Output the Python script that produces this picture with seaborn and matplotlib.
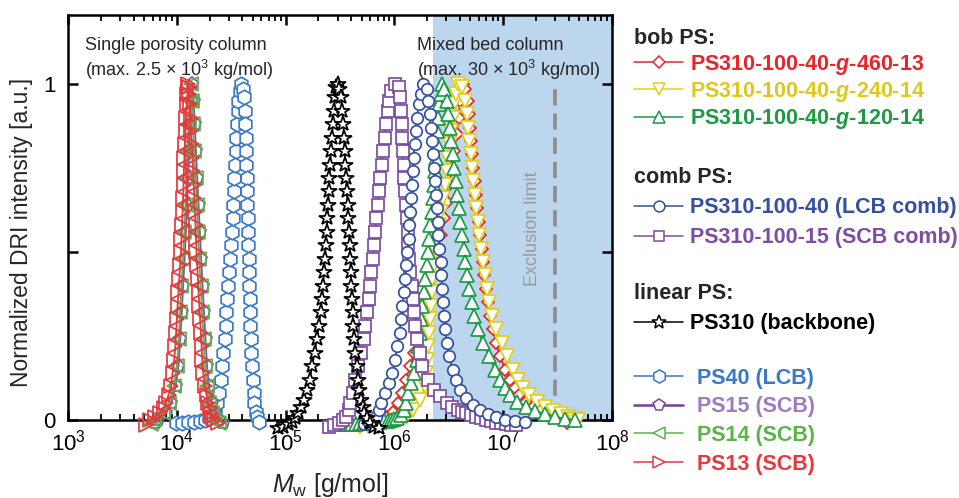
import numpy as np
import pandas as pd
import matplotlib
matplotlib.use("Agg")
import matplotlib.pyplot as plt
import seaborn as sns
from matplotlib.lines import Line2D
from matplotlib.ticker import LogLocator, NullFormatter, FixedLocator, FixedFormatter

# ---------------- data: log10(Mw [g/mol]) and normalized DRI intensity ----------------
LOGM_BOB460 = [5.794, 5.868, 5.932, 5.987, 6.033, 6.070, 6.107, 6.143, 6.180, 6.217, 6.254, 6.290, 6.327,
               6.364, 6.396, 6.428, 6.456, 6.483, 6.506, 6.529, 6.552, 6.571, 6.589, 6.607, 6.630,
               6.653, 6.672, 6.683, 6.694, 6.704, 6.715, 6.726, 6.738, 6.750, 6.763, 6.776, 6.789, 6.802,
               6.814, 6.827, 6.842, 6.858, 6.874, 6.902, 6.934, 6.971, 7.017, 7.062, 7.104, 7.145, 7.210,
               7.274, 7.338, 7.403, 7.458, 7.522, 7.586]
INT_BOB460 = [-0.01, 0.0, 0.01, 0.025, 0.05, 0.08, 0.12, 0.16, 0.2, 0.25, 0.3, 0.35, 0.4, 0.45, 0.5, 0.55,
              0.6, 0.65, 0.7, 0.75, 0.8, 0.85, 0.9, 0.95, 1.0,
              0.985, 0.95, 0.91, 0.87, 0.83, 0.79, 0.75, 0.71, 0.67, 0.63, 0.59, 0.55, 0.51, 0.47, 0.43,
              0.39, 0.35, 0.31, 0.27, 0.23, 0.19, 0.15, 0.12, 0.095, 0.075, 0.055, 0.04, 0.028, 0.018,
              0.01, 0.003, -0.01]

LOGM_BOB240 = [5.684, 5.757, 5.831, 5.904, 5.978, 6.042, 6.107, 6.171, 6.235, 6.277, 6.293, 6.304, 6.312,
               6.320, 6.327, 6.335, 6.341, 6.348, 6.362, 6.378, 6.393, 6.410, 6.426, 6.443, 6.461, 6.481,
               6.495, 6.509, 6.522, 6.535, 6.548, 6.562, 6.585,
               6.621, 6.653, 6.667, 6.679, 6.690, 6.700, 6.711, 6.724, 6.737, 6.750, 6.765, 6.779, 6.794,
               6.810, 6.829, 6.849, 6.869, 6.897, 6.938, 6.989, 7.035, 7.090, 7.136, 7.182, 7.237, 7.311,
               7.384, 7.458, 7.531, 7.596, 7.651, 7.687]
INT_BOB240 = [-0.02, -0.018, -0.015, -0.01, -0.005, 0.0, 0.01, 0.03, 0.06, 0.1, 0.14, 0.18, 0.22, 0.26,
              0.3, 0.34, 0.38, 0.42, 0.46, 0.5, 0.54, 0.58, 0.62, 0.66, 0.7, 0.74, 0.78, 0.82, 0.86, 0.9,
              0.94, 0.97, 1.0,
              0.99, 0.95, 0.91, 0.87, 0.83, 0.79, 0.75, 0.71, 0.67, 0.63, 0.59, 0.55, 0.51, 0.47, 0.43,
              0.39, 0.35, 0.31, 0.27, 0.23, 0.19, 0.15, 0.12, 0.095, 0.075, 0.055, 0.04, 0.028, 0.018,
              0.01, 0.004, 0.0]

LOGM_BOB120 = [5.537, 5.573, 5.610, 5.647, 5.684, 5.720, 5.757, 5.794, 5.831, 5.868, 5.904, 5.937, 5.969,
               5.997, 6.024, 6.061, 6.084, 6.102, 6.125, 6.153, 6.180, 6.203, 6.220, 6.233, 6.246, 6.258,
               6.270, 6.283, 6.295, 6.307, 6.318, 6.330, 6.341, 6.353, 6.364, 6.376, 6.382, 6.388, 6.394,
               6.403, 6.414, 6.425, 6.437,
               6.460, 6.479, 6.495, 6.509, 6.523, 6.534, 6.548, 6.562, 6.577, 6.592, 6.606, 6.619, 6.635,
               6.652, 6.669, 6.688, 6.709, 6.733, 6.764, 6.814, 6.869, 6.925, 6.971, 7.012, 7.058, 7.127,
               7.210, 7.292, 7.384, 7.476, 7.568, 7.660]
INT_BOB120 = [-0.012, -0.012, -0.012, -0.011, -0.01, -0.009, -0.008, -0.007, -0.006, -0.005, -0.004,
              -0.002, 0.0, 0.002, 0.005, 0.015, 0.03, 0.05, 0.08, 0.11, 0.14, 0.18, 0.22, 0.26, 0.3, 0.34,
              0.38, 0.42, 0.46, 0.5, 0.54, 0.58, 0.62, 0.66, 0.7, 0.74, 0.78, 0.82, 0.86, 0.9, 0.94, 0.97,
              1.0,
              0.985, 0.95, 0.91, 0.87, 0.83, 0.79, 0.75, 0.71, 0.67, 0.63, 0.59, 0.55, 0.51, 0.47, 0.43,
              0.39, 0.35, 0.31, 0.27, 0.23, 0.19, 0.15, 0.12, 0.095, 0.075, 0.055, 0.04, 0.028, 0.018,
              0.01, 0.004, 0.0]

LOGM_COMB40 = [5.721, 5.766, 5.803, 5.831, 5.854, 5.877, 5.914, 5.950, 5.982, 6.005, 6.028, 6.047, 6.061,
               6.074, 6.088, 6.100, 6.111, 6.120, 6.130, 6.137, 6.145, 6.153, 6.160, 6.167, 6.176, 6.185,
               6.196, 6.208, 6.224, 6.240, 6.267,
               6.295, 6.312, 6.323, 6.332, 6.341, 6.351, 6.360, 6.369, 6.378, 6.387, 6.396, 6.405, 6.414,
               6.425, 6.432, 6.438, 6.445, 6.454, 6.465, 6.483, 6.506, 6.534, 6.566, 6.607, 6.658, 6.722,
               6.787, 6.860, 6.934, 7.017, 7.108, 7.200]
INT_COMB40 = [-0.012, -0.008, 0.0, 0.01, 0.03, 0.05, 0.08, 0.11, 0.14, 0.18, 0.22, 0.26, 0.3, 0.34, 0.38,
              0.42, 0.46, 0.5, 0.54, 0.58, 0.62, 0.66, 0.7, 0.74, 0.78, 0.82, 0.86, 0.9, 0.94, 0.97, 1.0,
              0.985, 0.95, 0.91, 0.87, 0.83, 0.79, 0.75, 0.71, 0.67, 0.63, 0.59, 0.55, 0.51, 0.47, 0.43,
              0.39, 0.35, 0.31, 0.27, 0.23, 0.19, 0.15, 0.12, 0.09, 0.065, 0.045, 0.03, 0.018, 0.008, 0.0,
              -0.004, -0.006]

LOGM_COMB15 = [5.399, 5.445, 5.491, 5.528, 5.555, 5.578, 5.596, 5.615, 5.638, 5.665, 5.693, 5.716, 5.734,
               5.751, 5.765, 5.778, 5.789, 5.801, 5.812, 5.823, 5.834, 5.845, 5.857, 5.869, 5.882, 5.895,
               5.910, 5.925, 5.939, 5.953, 5.973, 6.005,
               6.038, 6.051, 6.061, 6.068, 6.073, 6.079, 6.084, 6.091, 6.099, 6.108, 6.116, 6.121, 6.128,
               6.134, 6.145, 6.157, 6.169, 6.180, 6.192, 6.208, 6.231, 6.254, 6.309, 6.364, 6.419, 6.483,
               6.530, 6.585, 6.620, 6.658, 6.700, 6.750, 6.800, 6.842, 6.890, 6.934, 6.980, 7.026, 7.070,
               7.118]
INT_COMB15 = [-0.02, -0.015, -0.008, 0.0, 0.01, 0.03, 0.05, 0.08, 0.12, 0.16, 0.2, 0.24, 0.28, 0.32, 0.36,
              0.4, 0.44, 0.48, 0.52, 0.56, 0.6, 0.64, 0.68, 0.72, 0.76, 0.8, 0.84, 0.88, 0.92, 0.95, 0.98,
              1.0,
              0.99, 0.96, 0.92, 0.88, 0.84, 0.8, 0.76, 0.72, 0.68, 0.64, 0.6, 0.56, 0.52, 0.48, 0.44, 0.4,
              0.36, 0.32, 0.28, 0.24, 0.2, 0.16, 0.12, 0.09, 0.07, 0.05, 0.04, 0.03, 0.025, 0.02, 0.015,
              0.01, 0.005, 0.0, -0.004, -0.008, -0.01, -0.012, -0.014, -0.015]

LOGM_PS310 = [4.930, 4.976, 5.022, 5.059, 5.086, 5.114, 5.142, 5.165, 5.192, 5.220, 5.243, 5.266, 5.287,
              5.305, 5.321, 5.335, 5.344, 5.353, 5.362, 5.369, 5.377, 5.384, 5.391, 5.397, 5.403, 5.410,
              5.417, 5.426, 5.434, 5.443, 5.454, 5.466, 5.477,
              5.495, 5.509, 5.521, 5.530, 5.537, 5.543, 5.550, 5.556, 5.562, 5.569, 5.575, 5.582, 5.588,
              5.594, 5.599, 5.604, 5.609, 5.615, 5.621, 5.631, 5.642, 5.654, 5.667, 5.679, 5.693, 5.707,
              5.725, 5.748, 5.776, 5.812, 5.858]
INT_PS310 = [-0.025, -0.02, -0.012, -0.005, 0.005, 0.02, 0.04, 0.06, 0.09, 0.12, 0.16, 0.2, 0.24, 0.28,
             0.32, 0.36, 0.4, 0.44, 0.48, 0.52, 0.56, 0.6, 0.64, 0.68, 0.72, 0.76, 0.8, 0.84, 0.88, 0.92,
             0.96, 0.99, 1.0,
             0.985, 0.96, 0.92, 0.88, 0.84, 0.8, 0.76, 0.72, 0.68, 0.64, 0.6, 0.56, 0.52, 0.48, 0.44, 0.4,
             0.36, 0.32, 0.28, 0.24, 0.2, 0.16, 0.12, 0.09, 0.06, 0.04, 0.02, 0.005, -0.01, -0.02, -0.025]

LOGM_PS40 = [3.993, 4.048, 4.103, 4.158, 4.213, 4.259, 4.296, 4.328, 4.351, 4.369, 4.388, 4.406, 4.418,
             4.429, 4.440, 4.449, 4.456, 4.462, 4.472, 4.483, 4.493, 4.501, 4.508, 4.515, 4.520, 4.525,
             4.530, 4.536, 4.542, 4.548, 4.553, 4.559, 4.565, 4.577, 4.590,
             4.604, 4.614, 4.623, 4.628, 4.632, 4.636, 4.640, 4.643, 4.646, 4.649, 4.652, 4.654, 4.657,
             4.661, 4.664, 4.667, 4.671, 4.674, 4.677, 4.681, 4.685, 4.689, 4.696, 4.705, 4.714, 4.726,
             4.737, 4.755]
INT_PS40 = [-0.01, -0.008, -0.006, -0.005, -0.004, 0.0, 0.005, 0.015, 0.03, 0.05, 0.08, 0.12, 0.16, 0.2,
            0.24, 0.28, 0.32, 0.36, 0.4, 0.44, 0.48, 0.52, 0.56, 0.6, 0.64, 0.68, 0.72, 0.76, 0.8, 0.84,
            0.88, 0.92, 0.95, 0.98, 1.0,
            0.985, 0.96, 0.92, 0.88, 0.84, 0.8, 0.76, 0.72, 0.68, 0.64, 0.6, 0.56, 0.52, 0.48, 0.44, 0.4,
            0.36, 0.32, 0.28, 0.24, 0.2, 0.16, 0.12, 0.08, 0.05, 0.025, 0.01, -0.005]

LOGM_PS15 = [3.80, 3.83, 3.90, 3.95, 3.99, 4.015, 4.032, 4.046, 4.058, 4.072, 4.084, 4.095, 4.104, 4.113,
             4.123, 4.133, 4.143,
             4.155, 4.165, 4.176, 4.188, 4.200, 4.212, 4.224, 4.237, 4.250, 4.264, 4.278, 4.296, 4.320,
             4.350, 4.385, 4.420]
INT_PS15 = [-0.01, 0.0, 0.02, 0.05, 0.1, 0.16, 0.24, 0.32, 0.4, 0.48, 0.56, 0.64, 0.72, 0.8, 0.88, 0.95,
            1.0,
            0.95, 0.88, 0.8, 0.72, 0.64, 0.56, 0.48, 0.4, 0.32, 0.24, 0.16, 0.1, 0.05, 0.02, 0.0, -0.01]

LOGM_PS14 = [3.76, 3.79, 3.87, 3.925, 3.972, 4.000, 4.018, 4.030, 4.042, 4.058, 4.070, 4.080, 4.089, 4.098,
             4.108, 4.118, 4.128,
             4.140, 4.149, 4.160, 4.172, 4.183, 4.195, 4.206, 4.219, 4.232, 4.246, 4.258, 4.276, 4.300,
             4.325, 4.350, 4.385]
INT_PS14 = [-0.012, 0.0, 0.02, 0.05, 0.1, 0.16, 0.24, 0.32, 0.4, 0.48, 0.56, 0.64, 0.72, 0.8, 0.88, 0.95,
            1.0,
            0.95, 0.88, 0.8, 0.72, 0.64, 0.56, 0.48, 0.4, 0.32, 0.24, 0.16, 0.1, 0.05, 0.02, 0.0, -0.01]

LOGM_PS13 = [3.717, 3.754, 3.800, 3.846, 3.878, 3.901, 3.924, 3.947, 3.961, 3.976, 3.987, 3.994, 4.001,
             4.007, 4.015, 4.023, 4.030, 4.039, 4.043, 4.048, 4.053, 4.058, 4.062, 4.065, 4.070, 4.074,
             4.080, 4.085, 4.092, 4.097, 4.101, 4.103,
             4.108, 4.114, 4.119, 4.126, 4.132, 4.138, 4.144, 4.151, 4.156, 4.162, 4.166, 4.172, 4.176,
             4.181, 4.187, 4.194, 4.200, 4.208, 4.214, 4.221, 4.228, 4.234, 4.243, 4.259, 4.273, 4.287,
             4.301, 4.314, 4.328, 4.342, 4.379]
INT_PS13 = [-0.015, 0.0, 0.01, 0.02, 0.035, 0.05, 0.075, 0.1, 0.14, 0.18, 0.22, 0.26, 0.3, 0.34, 0.38,
            0.42, 0.46, 0.5, 0.54, 0.58, 0.62, 0.66, 0.7, 0.74, 0.78, 0.82, 0.86, 0.9, 0.94, 0.97, 0.99,
            1.0,
            0.99, 0.97, 0.94, 0.9, 0.86, 0.82, 0.78, 0.74, 0.7, 0.66, 0.62, 0.58, 0.54, 0.5, 0.46, 0.42,
            0.38, 0.34, 0.3, 0.26, 0.22, 0.18, 0.14, 0.1, 0.075, 0.05, 0.035, 0.02, 0.01, 0.0, -0.01]

MIXED_BED_START = 2.27e6      # g/mol, start of shaded mixed-bed region
EXCLUSION_LIMIT = 3.0e7       # g/mol
X_TICKS = [1e3, 1e4, 1e5, 1e6, 1e7, 1e8]
Y_TICKS = [0, 0.5, 1]
Y_TICKLABELS = ["0", "", "1"]

# ---------------- style ----------------
sns.set_theme(style="ticks")
plt.rcParams.update({
    "font.family": ["Liberation Sans", "DejaVu Sans"],
    "mathtext.fontset": "custom",
    "mathtext.rm": "Liberation Sans",
    "mathtext.it": "Liberation Sans:italic",
    "mathtext.bf": "Liberation Sans:bold",
    "mathtext.sf": "Liberation Sans:bold:italic",
    "axes.linewidth": 1.8,
    "axes.edgecolor": "black",
})

fig = plt.figure(figsize=(9.59, 4.98), dpi=100)
ax = fig.add_axes([0.0709, 0.1566, 0.5673, 0.8133])
ax.set_xscale("log")

# series: (logM, intensity, line colour, marker, size, face, zorder)
series = [
    (LOGM_BOB460, INT_BOB460, "#E8252B", "D", 6.6, "white", 3.0),
    (LOGM_BOB240, INT_BOB240, "#E3CF1A", "v", 10.0, "white", 3.1),
    (LOGM_BOB120, INT_BOB120, "#1E9A47", "^", 10.0, "white", 3.2),
    (LOGM_COMB15, INT_COMB15, "#7D4EA1", "s", 8.0, "white", 3.3),
    (LOGM_COMB40, INT_COMB40, "#34509F", "o", 8.3, "white", 3.4),
    (LOGM_PS310, INT_PS310, "#000000", "*", 11.5, "white", 3.5),
    (LOGM_PS40, INT_PS40, "#3B78C6", "h", 10.5, "white", 3.6),
    (LOGM_PS15, INT_PS15, "#8155A8", "p", 9.5, "none", 3.7),
    (LOGM_PS14, INT_PS14, "#5BB447", "<", 10.0, "none", 3.8),
    (LOGM_PS13, INT_PS13, "#E8383E", ">", 10.0, "none", 3.9),
]

ax.axvspan(MIXED_BED_START, X_TICKS[-1], color="#BCD6EE", lw=0, zorder=0)

for logm, inten, col, mk, ms, face, z in series:
    df = pd.DataFrame({"M": 10 ** np.asarray(logm), "I": inten})
    sns.lineplot(data=df, x="M", y="I", ax=ax, estimator=None, sort=False,
                 color=col, lw=1.3, marker=mk, markersize=ms,
                 markerfacecolor=face, markeredgecolor=col, markeredgewidth=1.25,
                 clip_on=False, zorder=z, legend=False)

ax.vlines(EXCLUSION_LIMIT, 0, 1, colors="#8C8C8C", lw=2.6, linestyles=(0, (4.5, 2.2)), zorder=2.8)
ax.text(10 ** 7.265, 0.57, "Exclusion limit", rotation=90, ha="center", va="center",
        fontsize=13, color="#9A9A9A", zorder=2.9)

ax.text(0.031, 0.89, "Single porosity column\n(max. 2.5 \u00d7 10$^3$ kg/mol)", transform=ax.transAxes,
        ha="left", va="center", fontsize=13, linespacing=1.25, zorder=5)
ax.text(0.6415, 0.89, "Mixed bed column\n(max. 30 \u00d7 10$^3$ kg/mol)", transform=ax.transAxes,
        ha="left", va="center", fontsize=13, linespacing=1.25, zorder=5)

ax.set_xlim(X_TICKS[0], X_TICKS[-1])
ax.set_ylim(0, 1.205)
ax.xaxis.set_major_locator(LogLocator(base=10, numticks=10))
ax.xaxis.set_minor_locator(LogLocator(base=10, subs=np.arange(2, 10), numticks=20))
ax.xaxis.set_minor_formatter(NullFormatter())
ax.yaxis.set_major_locator(FixedLocator(Y_TICKS))
ax.yaxis.set_major_formatter(FixedFormatter(Y_TICKLABELS))
ax.tick_params(which="both", direction="in", top=True, right=True, colors="black")
ax.tick_params(which="major", length=7, width=1.8)
ax.tick_params(which="minor", length=4, width=1.3)
ax.tick_params(axis="x", which="major", labelsize=16, pad=7)
ax.tick_params(axis="y", which="major", labelsize=16, pad=9)
for sp in ax.spines.values():
    sp.set_linewidth(1.8)
    sp.set_color("black")
    sp.set_zorder(2.5)

ax.set_xlabel("$M_\\mathrm{w}$ [g/mol]", fontsize=18)
ax.set_ylabel("Normalized DRI intensity [a.u.]", fontsize=16.5)
ax.xaxis.set_label_coords(0.482, -0.125)
ax.yaxis.set_label_coords(-0.064, 0.462)

# ---------------- legends ----------------
def handle(col, mk, ms, lw=1.1):
    return Line2D([0], [0], color=col, lw=lw, marker=mk, markersize=ms,
                  markerfacecolor="white", markeredgecolor=col, markeredgewidth=1.1)

groups = [
    ("bob PS:", 0.943, 0.3, 0.15, [
        (handle("#E8252B", "D", 6.0), "PS310-100-40-$\\mathsf{g}$-460-13", "#E8252B"),
        (handle("#E3CF1A", "v", 9.0), "PS310-100-40-$\\mathsf{g}$-240-14", "#DCC81E"),
        (handle("#1E9A47", "^", 9.0), "PS310-100-40-$\\mathsf{g}$-120-14", "#1E9A47"),
    ]),
    ("comb PS:", 0.664, 0.3, 0.42, [
        (handle("#34509F", "o", 7.8), "PS310-100-40 (LCB comb)", "#34509F"),
        (handle("#7D4EA1", "s", 7.5), "PS310-100-15 (SCB comb)", "#7D4EA1"),
    ]),
    ("linear PS:", 0.431, 0.3, 0.42, [
        (handle("#000000", "*", 10.5), "PS310 (backbone)", "#000000"),
    ]),
    (None, 0.262, 0.62, 0.36, [
        (handle("#3B78C6", "h", 9.5), "PS40 (LCB)", "#3B78C6"),
        (handle("#7B48A0", "p", 8.5, lw=1.9), "PS15 (SCB)", "#9D7CC0"),
        (handle("#5BB447", "<", 9.0), "PS14 (SCB)", "#5BB447"),
        (handle("#E8383E", ">", 9.0), "PS13 (SCB)", "#E8383E"),
    ]),
]
for title, ytop, pad, spacing, entries in groups:
    leg = fig.legend([e[0] for e in entries], [e[1] for e in entries],
                     loc="upper left", bbox_to_anchor=(0.661, ytop), bbox_transform=fig.transFigure,
                     frameon=False, borderpad=0, borderaxespad=0, handlelength=2.3,
                     handletextpad=pad, labelspacing=spacing, alignment="left",
                     title=title, title_fontproperties={"weight": "bold", "size": 15.5},
                     prop={"weight": "bold", "size": 15.5})
    for txt, e in zip(leg.get_texts(), entries):
        txt.set_color(e[2])

fig.savefig("out.png", dpi=100, facecolor="white")
